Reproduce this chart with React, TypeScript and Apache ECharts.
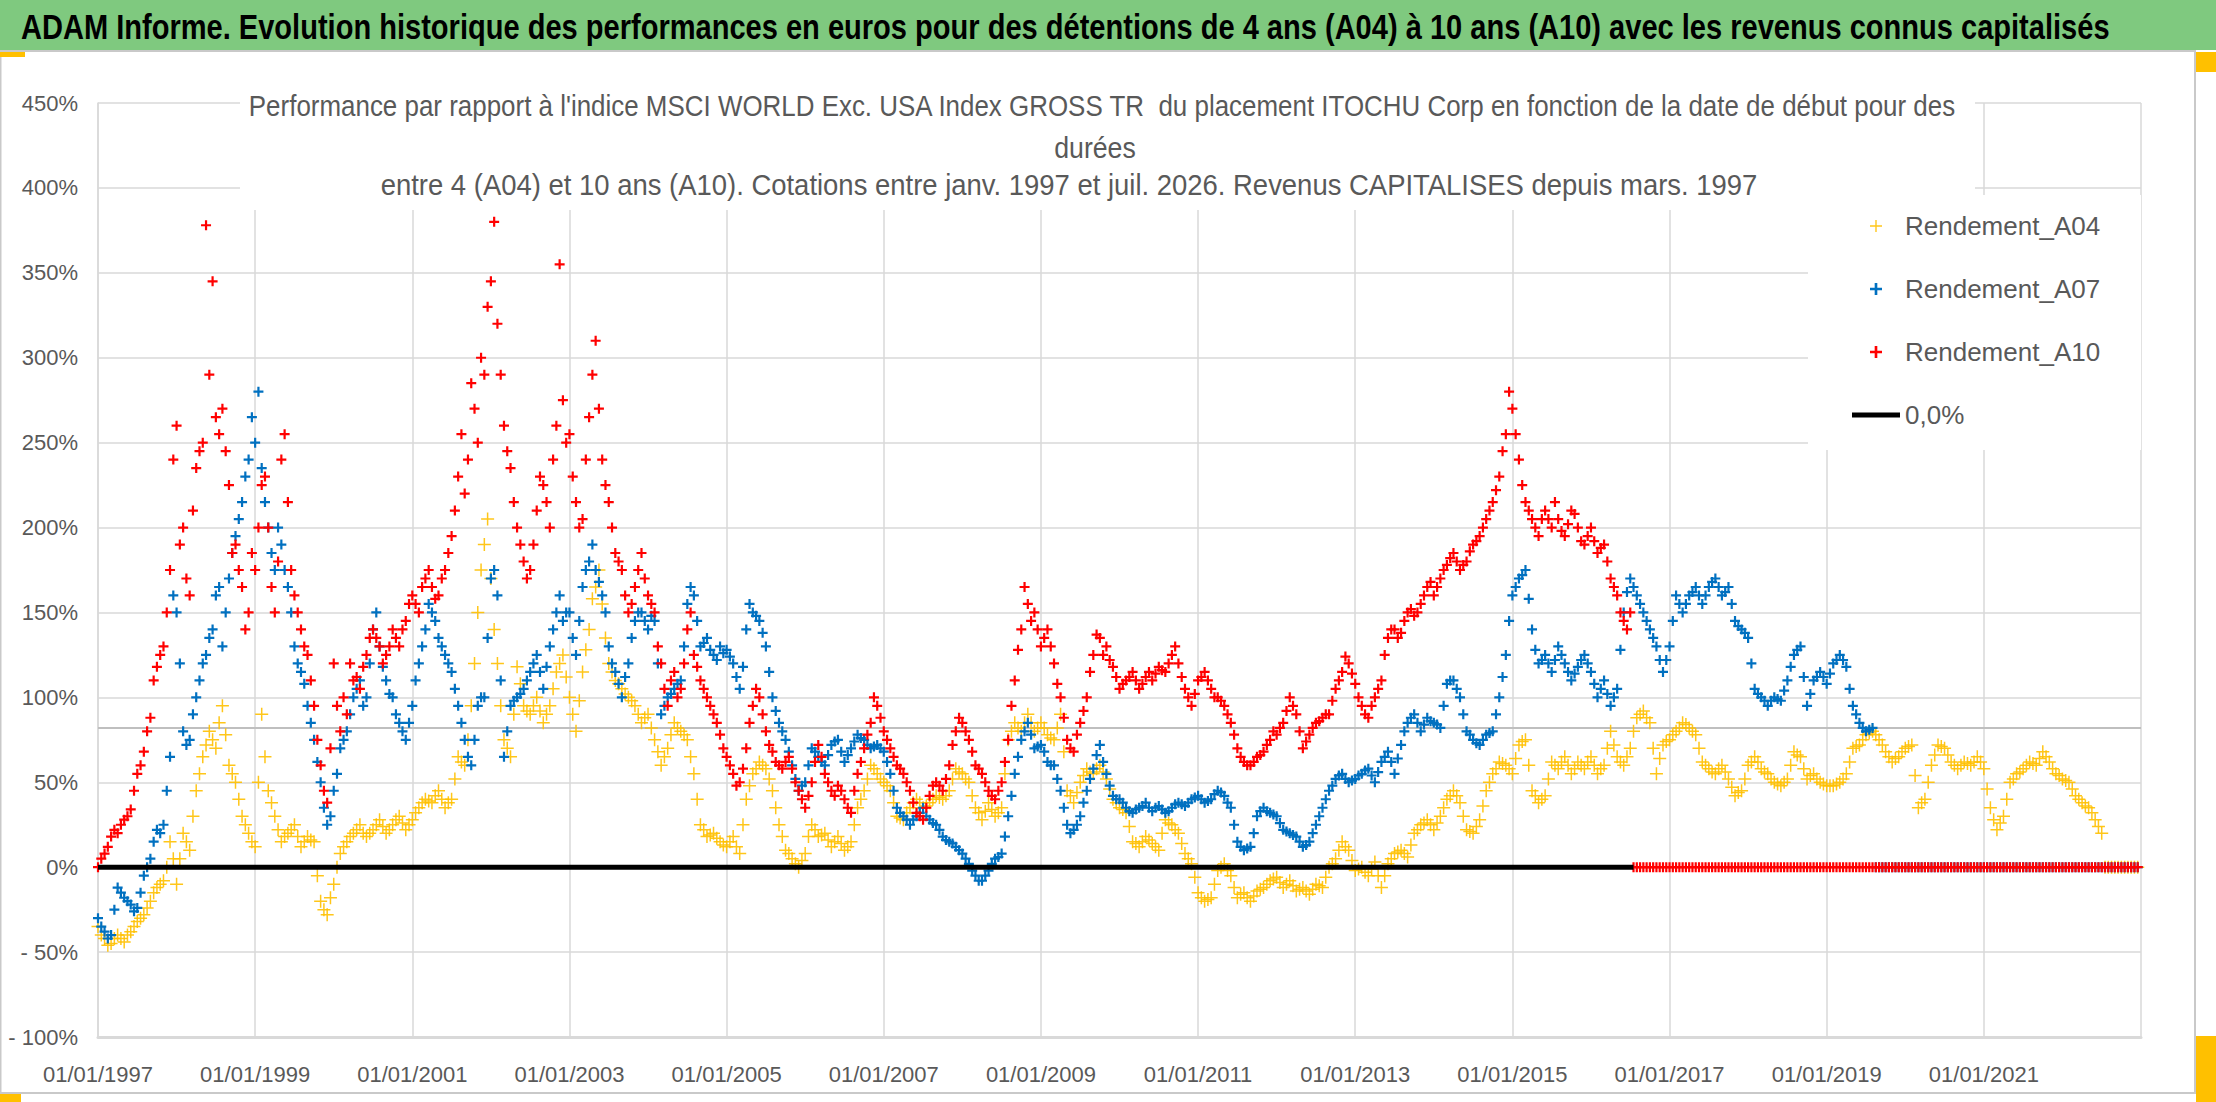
import React, { useEffect, useRef } from 'react';
import * as echarts from 'echarts';

const FONT = "'Liberation Sans', Arial, sans-serif";

// x axis: months counted from Jan 1997, gridlines every 2 years
const FIRST_YEAR = 1997;
const LAST_YEAR = 2023;
const MONTHS_PER_TICK = 24;

// y axis (%)
const Y_MIN = -100;
const Y_MAX = 450;
const Y_STEP = 50;
const REF_LEVEL = 82; // the darker grey horizontal line

const SERIES_NAMES = ['Rendement_A04', 'Rendement_A07', 'Rendement_A10'];
const ZERO_NAME = '0,0%';
const COLORS = ['#FFC000', '#0070C0', '#FF0000'];

// readings (%) at the start of each month from Jan 1997, one row per year
const A04 = [
  -35, -42, -45, -40, -44, -38, -32, -28, -20, -12, -8, 15,
  -10, 20, 10, 45, 65, 80, 70, 95, 60, 50, 30, 20,
  12, 90, 45, 30, 15, 20, 25, 12, 18, 15, -20, -28,
  -10, 8, 15, 20, 25, 18, 22, 28, 20, 25, 30, 22,
  28, 35, 40, 38, 45, 35, 40, 65, 60, 95, 150, 190,
  170, 120, 75, 65, 118, 95, 90, 100, 85, 95, 115, 125,
  100, 80, 115, 140, 165, 155, 120, 110, 105, 100, 95, 85,
  90, 75, 60, 70, 85, 80, 75, 55, 25, 18, 20, 15,
  12, 18, 8, 40, 55, 62, 58, 45, 25, 10, 5, 0,
  8, 25, 18, 20, 12, 18, 10, 15, 35, 45, 60, 55,
  50, 45, 30, 28, 35, 40, 35, 38, 42, 40, 45, 58,
  55, 50, 35, 28, 38, 30, 35, 75, 85, 80, 90, 80,
  85, 78, 75, 90, 45, 38, 50, 58, 55, 60, 52, 40,
  35, 32, 15, 12, 18, 14, 10, 28, 25, 20, 8, 2,
  -15, -20, -18, -2, 2, -5, -18, -15, -20, -14, -12, -8,
  -6, -12, -8, -14, -12, -16, -10, -12, 0, 5, 15, 10,
  -2, 0, -5, 3, -12, 2, 8, 10, 6, 20, 25, 28,
  22, 30, 40, 45, 38, 22, 20, 28, 45, 55, 62, 60,
  55, 72, 75, 45, 38, 42, 62, 58, 65, 55, 62, 58,
  65, 55, 60, 80, 65, 60, 70, 88, 92, 85, 55, 72,
  75, 80, 85, 82, 78, 62, 58, 55, 60, 52, 42, 45,
  60, 65, 58, 55, 50, 48, 52, 68, 65, 52, 55, 50,
  48, 48, 50, 55, 70, 72, 78, 80, 75, 68, 62, 65,
  70, 72, 35, 40, 60, 72, 70, 62, 58, 62, 60, 65,
  58, 35, 22, 30, 50, 55, 58, 62, 60, 68, 62, 55,
  52, 50, 42, 38, 35, 28, 20, 0, 0, 0, 0, 0,
];
// readings in the middle of each month
const A04_MID = [
  -40, -46, -42, -42, -40, -35, -30, -24, -15, -10, 0, 5,
  5, 15, 30, 55, 72, 75, 85, 78, 55, 40, 25, 15,
  50, 65, 38, 22, 18, 22, 18, 15, 16, -5, -25, -18,
  0, 12, 18, 22, 20, 20, 25, 24, 22, 28, 26, 25,
  32, 38, 39, 42, 40, 38, 52, 62, 75, 120, 175, 205,
  140, 95, 70, 90, 108, 92, 95, 92, 90, 105, 120, 112,
  90, 98, 128, 158, 175, 135, 115, 108, 102, 98, 90, 88,
  82, 68, 65, 78, 82, 78, 65, 40, 22, 19, 17, 13,
  15, 12, 25, 48, 58, 60, 52, 35, 18, 8, 2, 4,
  18, 22, 19, 16, 15, 14, 12, 25, 40, 52, 58, 52,
  48, 38, 29, 32, 38, 38, 36, 40, 41, 42, 52, 56,
  52, 42, 32, 33, 34, 32, 55, 80, 82, 85, 85, 82,
  82, 76, 82, 68, 42, 44, 54, 56, 58, 56, 46, 38,
  34, 24, 14, 15, 16, 12, 20, 26, 22, 14, 5, -6,
  -18, -19, -10, 0, -2, -12, -16, -18, -17, -13, -10, -7,
  -9, -10, -11, -13, -14, -13, -11, -6, 2, 10, 12, 4,
  -1, -3, -1, -5, -5, 5, 9, 8, 13, 22, 26, 25,
  26, 35, 42, 42, 30, 21, 24, 36, 50, 58, 61, 58,
  64, 74, 60, 42, 40, 52, 60, 62, 60, 58, 60, 62,
  60, 58, 70, 72, 62, 65, 80, 90, 88, 70, 64, 74,
  78, 82, 84, 80, 70, 60, 56, 58, 56, 47, 44, 52,
  62, 62, 56, 52, 49, 50, 60, 66, 58, 54, 52, 49,
  48, 49, 52, 62, 71, 75, 79, 78, 72, 65, 64, 68,
  71, 54, 38, 50, 66, 71, 66, 60, 60, 61, 62, 62,
  46, 28, 26, 40, 52, 56, 60, 61, 64, 65, 58, 54,
  51, 46, 40, 36, 32, 24, 0, 0, 0, 0, 0, 0,
];

const A07 = [
  -30, -38, -40, -12, -18, -22, -24, -5, 5, 22, 25, 65,
  150, 80, 75, 100, 120, 135, 160, 130, 170, 195, 215, 240,
  250, 235, 200, 175, 190, 165, 130, 115, 95, 75, 50, 25,
  45, 70, 80, 100, 110, 100, 140, 130, 110, 100, 85, 75,
  95, 120, 140, 150, 135, 125, 115, 95, 75, 60, 95, 100,
  170, 160, 65, 95, 100, 105, 115, 125, 105, 130, 150, 145,
  150, 125, 165, 180, 175, 160, 130, 115, 100, 120, 145, 150,
  140, 145, 90, 100, 105, 110, 155, 160, 130, 135, 125, 130,
  128, 120, 105, 140, 150, 145, 130, 100, 85, 75, 60, 45,
  50, 70, 65, 60, 72, 75, 62, 70, 78, 75, 70, 72,
  68, 55, 35, 30, 25, 30, 35, 28, 25, 18, 15, 12,
  8, 2, -5, -8, -2, 5, 8, 30, 55, 75, 85, 70,
  72, 62, 60, 45, 25, 22, 30, 45, 58, 72, 55, 42,
  40, 35, 32, 35, 38, 33, 36, 32, 35, 38, 36, 40,
  42, 38, 40, 45, 42, 35, 15, 10, 12, 30, 35, 32,
  30, 22, 20, 18, 12, 15, 25, 35, 45, 52, 55, 50,
  52, 55, 58, 50, 62, 68, 55, 72, 85, 90, 80, 88,
  85, 82, 108, 110, 100, 80, 75, 72, 78, 80, 100, 125,
  160, 170, 175, 140, 120, 125, 115, 130, 120, 110, 118, 125,
  115, 100, 110, 95, 105, 150, 170, 160, 150, 140, 130, 115,
  130, 160, 150, 160, 165, 155, 165, 170, 160, 165, 145, 140,
  135, 105, 100, 95, 100, 98, 110, 125, 130, 95, 110, 115,
  108, 120, 125, 118, 95, 85, 80, 82, 0, 0, 0, 0,
  0, 0, 0, 0, 0, 0, 0, 0, 0, 0, 0, 0,
  0, 0, 0, 0, 0, 0, 0, 0, 0, 0, 0, 0,
  0, 0, 0, 0, 0, 0, 0, 0, 0, 0, 0, 0,
];
const A07_MID = [
  -35, -42, -25, -15, -20, -26, -15, 0, 15, 20, 45, 160,
  120, 72, 90, 110, 125, 140, 165, 150, 185, 205, 230, 265,
  280, 215, 185, 200, 175, 150, 120, 108, 85, 62, 35, 30,
  55, 75, 90, 105, 95, 120, 150, 118, 102, 90, 80, 85,
  110, 130, 155, 145, 130, 120, 105, 85, 65, 75, 100, 135,
  175, 110, 80, 98, 102, 110, 120, 115, 118, 140, 160, 150,
  135, 145, 175, 190, 168, 150, 120, 108, 112, 135, 150, 145,
  148, 120, 95, 102, 108, 130, 165, 145, 132, 128, 122, 126,
  124, 112, 118, 155, 148, 138, 115, 92, 80, 68, 52, 48,
  60, 68, 62, 66, 74, 68, 66, 74, 76, 72, 71, 70,
  62, 45, 32, 28, 28, 32, 30, 26, 22, 16, 14, 10,
  5, -2, -8, -5, 2, 6, 18, 42, 65, 80, 78, 71,
  68, 60, 52, 35, 20, 25, 38, 52, 66, 62, 48, 40,
  38, 33, 34, 36, 35, 35, 34, 33, 37, 37, 38, 41,
  40, 39, 43, 44, 38, 25, 12, 11, 20, 33, 33, 31,
  26, 21, 19, 15, 13, 20, 30, 40, 48, 54, 52, 51,
  54, 57, 54, 56, 65, 62, 64, 80, 88, 85, 84, 86,
  84, 95, 110, 105, 90, 78, 73, 75, 79, 90, 112, 145,
  165, 172, 158, 128, 122, 120, 122, 125, 115, 114, 122, 120,
  108, 105, 102, 100, 128, 162, 165, 155, 145, 135, 122, 122,
  145, 155, 155, 162, 160, 160, 168, 165, 162, 155, 142, 138,
  120, 102, 98, 98, 99, 104, 118, 128, 112, 102, 112, 112,
  114, 122, 122, 105, 90, 82, 81, 0, 0, 0, 0, 0,
  0, 0, 0, 0, 0, 0, 0, 0, 0, 0, 0, 0,
  0, 0, 0, 0, 0, 0, 0, 0, 0, 0, 0, 0,
  0, 0, 0, 0, 0, 0, 0, 0, 0, 0, 0, 0,
];

const A10 = [
  0, 8, 18, 20, 28, 34, 55, 68, 88, 118, 130, 175,
  260, 200, 160, 235, 250, 290, 265, 270, 225, 190, 165, 150,
  175, 225, 200, 150, 240, 215, 160, 140, 125, 95, 60, 38,
  120, 80, 90, 110, 105, 125, 140, 130, 125, 140, 130, 145,
  160, 150, 170, 165, 160, 175, 195, 230, 220, 285, 250, 290,
  345, 320, 260, 235, 200, 180, 175, 210, 225, 200, 260, 275,
  255, 215, 205, 265, 310, 240, 215, 185, 175, 150, 165, 185,
  160, 150, 120, 95, 115, 105, 140, 125, 110, 100, 90, 78,
  65, 55, 50, 70, 95, 100, 80, 68, 60, 62, 58, 45,
  35, 50, 72, 55, 45, 48, 40, 32, 55, 70, 85, 95,
  80, 70, 60, 55, 45, 32, 28, 42, 50, 45, 60, 80,
  85, 75, 60, 55, 45, 40, 50, 75, 110, 140, 155, 150,
  130, 140, 120, 100, 75, 68, 85, 100, 125, 135, 130, 118,
  105, 110, 115, 105, 112, 110, 118, 115, 125, 120, 105, 95,
  110, 115, 105, 100, 95, 85, 70, 62, 60, 65, 68, 75,
  78, 85, 100, 90, 70, 78, 85, 88, 90, 105, 115, 120,
  108, 95, 88, 100, 110, 135, 140, 138, 150, 148, 155, 165,
  160, 170, 178, 185, 175, 180, 190, 195, 205, 215, 230, 255,
  270, 240, 215, 205, 195, 210, 200, 205, 195, 210, 200, 190,
  200, 185, 190, 170, 160, 145, 150, 0, 0, 0, 0, 0,
  0, 0, 0, 0, 0, 0, 0, 0, 0, 0, 0, 0,
  0, 0, 0, 0, 0, 0, 0, 0, 0, 0, 0, 0,
  0, 0, 0, 0, 0, 0, 0, 0, 0, 0, 0, 0,
  0, 0, 0, 0, 0, 0, 0, 0, 0, 0, 0, 0,
  0, 0, 0, 0, 0, 0, 0, 0, 0, 0, 0, 0,
  0, 0, 0, 0, 0, 0, 0, 0, 0, 0, 0, 0,
];
const A10_MID = [
  5, 12, 22, 25, 30, 45, 60, 80, 110, 125, 150, 240,
  190, 170, 210, 245, 378, 345, 255, 245, 185, 175, 140, 185,
  200, 230, 165, 180, 255, 175, 150, 130, 110, 75, 45, 70,
  95, 100, 120, 112, 118, 135, 135, 120, 130, 135, 140, 155,
  155, 165, 175, 158, 170, 185, 210, 255, 240, 270, 300, 330,
  380, 290, 245, 215, 190, 170, 190, 230, 215, 240, 355, 250,
  230, 200, 240, 290, 270, 225, 200, 180, 160, 155, 175, 170,
  155, 130, 105, 110, 100, 120, 150, 118, 105, 95, 85, 70,
  60, 48, 58, 85, 105, 90, 72, 62, 58, 65, 50, 40,
  42, 62, 65, 50, 42, 45, 35, 45, 62, 78, 100, 88,
  75, 65, 58, 50, 38, 30, 35, 48, 48, 52, 72, 88,
  80, 68, 58, 50, 42, 45, 62, 95, 128, 165, 145, 140,
  135, 130, 108, 88, 70, 78, 92, 115, 137, 125, 122, 112,
  108, 112, 110, 108, 115, 114, 116, 120, 130, 112, 100, 102,
  112, 110, 100, 98, 90, 78, 65, 60, 62, 66, 72, 80,
  82, 92, 95, 80, 74, 82, 86, 90, 98, 110, 124, 114,
  100, 90, 95, 105, 125, 140, 135, 145, 152, 150, 160, 168,
  165, 175, 182, 180, 178, 186, 192, 200, 210, 222, 245, 280,
  255, 225, 210, 200, 205, 205, 215, 198, 202, 208, 192, 195,
  192, 188, 180, 165, 150, 140, 0, 0, 0, 0, 0, 0,
  0, 0, 0, 0, 0, 0, 0, 0, 0, 0, 0, 0,
  0, 0, 0, 0, 0, 0, 0, 0, 0, 0, 0, 0,
  0, 0, 0, 0, 0, 0, 0, 0, 0, 0, 0, 0,
  0, 0, 0, 0, 0, 0, 0, 0, 0, 0, 0, 0,
  0, 0, 0, 0, 0, 0, 0, 0, 0, 0, 0, 0,
  0, 0, 0, 0, 0, 0, 0, 0, 0, 0, 0, 0,
];

const TITLE = 'ADAM Informe. Evolution historique des performances en euros pour des détentions de 4 ans (A04) à 10 ans (A10) avec les revenus connus capitalisés';
const SUBTITLE = [
  "Performance par rapport à l'indice MSCI WORLD Exc. USA Index GROSS TR  du placement ITOCHU Corp en fonction de la date de début pour des",
  'durées',
  'entre 4 (A04) et 10 ans (A10). Cotations entre janv. 1997 et juil. 2026. Revenus CAPITALISES depuis mars. 1997',
];

// "+" markers: bold for A07/A10, thin for A04
const PLUS_BOLD = 'path://M3.9,0h2.2v3.9h3.9v2.2h-3.9v3.9h-2.2v-3.9h-3.9v-2.2h3.9z';
const PLUS_THIN = 'path://M5.75,0h1.5v5.75h5.75v1.5h-5.75v5.75h-1.5v-5.75h-5.75v-1.5h5.75z';
const LINE_ICON = 'path://M0,0h48v5h-48z';

const W = 2216;
const H = 1102;

const App: React.FC = () => {
  const chartRef = useRef<HTMLDivElement>(null);

  useEffect(() => {
    if (!chartRef.current) return;
    document.body.style.margin = '0';

    const chart = echarts.init(chartRef.current, null, { renderer: 'svg' });

    const totalMonths = (LAST_YEAR - FIRST_YEAR) * 12;
    const toPoints = (start: number[], mid: number[]) => [
      ...start.map((v, i) => [i, v]),
      ...mid.map((v, i) => [i + 0.5, v]),
    ];
    const lastA10 = A10.reduce((last, v, i) => (v !== 0 ? i : last), 0);

    const scatter = (name: string, start: number[], mid: number[], color: string, thin: boolean) => ({
      name,
      type: 'scatter',
      data: toPoints(start, mid),
      symbol: thin ? PLUS_THIN : PLUS_BOLD,
      symbolSize: thin ? 13 : 10,
      itemStyle: { color, opacity: thin ? 0.9 : 1 },
      silent: true,
      z: 3,
    });

    const subtitleText = (text: string, x: number, y: number, sx: number) => ({
      type: 'text',
      z: 10,
      x,
      y,
      scaleX: sx,
      style: { text, fill: '#595959', font: `30px ${FONT}`, textAlign: 'center', textVerticalAlign: 'middle' },
    });

    const option = {
      animation: false,
      backgroundColor: '#ffffff',
      grid: { left: 98, right: 75, top: 103, bottom: 65 },
      xAxis: {
        type: 'value',
        min: 0,
        max: totalMonths,
        interval: MONTHS_PER_TICK,
        axisLine: { onZero: false, lineStyle: { color: '#d9d9d9', width: 3 } },
        axisTick: { show: false },
        splitLine: { show: true, lineStyle: { color: '#d9d9d9', width: 1.5 } },
        axisLabel: {
          showMaxLabel: false,
          margin: 26,
          color: '#595959',
          fontSize: 22,
          fontFamily: FONT,
          formatter: (v: number) => `01/01/${FIRST_YEAR + v / 12}`,
        },
      },
      yAxis: {
        type: 'value',
        min: Y_MIN,
        max: Y_MAX,
        interval: Y_STEP,
        axisLine: { show: true, lineStyle: { color: '#d9d9d9', width: 1.5 } },
        axisTick: { show: false },
        splitLine: { show: true, lineStyle: { color: '#d9d9d9', width: 1.5 } },
        axisLabel: {
          margin: 20,
          color: '#595959',
          fontSize: 22,
          fontFamily: FONT,
          formatter: (v: number) => (v < 0 ? `- ${-v}%` : `${v}%`),
        },
      },
      legend: {
        orient: 'vertical',
        left: 1847,
        top: 208,
        itemWidth: 48,
        itemHeight: 12,
        itemGap: 37,
        textStyle: { fontSize: 26, color: '#595959', fontFamily: FONT },
        data: [
          ...SERIES_NAMES.map((name) => ({ name })),
          { name: ZERO_NAME, icon: LINE_ICON, itemStyle: { color: '#000000' } },
        ],
      },
      graphic: [
        { type: 'rect', z: 1, shape: { x: 0, y: 0, width: W, height: 50 }, style: { fill: '#7fc97f' } },
        { type: 'rect', z: 1, shape: { x: 0, y: 50, width: 2196, height: 2 }, style: { fill: '#c9c9c9' } },
        { type: 'rect', z: 1, shape: { x: 2194, y: 50, width: 2, height: 1044 }, style: { fill: '#c9c9c9' } },
        { type: 'rect', z: 1, shape: { x: 0, y: 1092, width: 2196, height: 2 }, style: { fill: '#c9c9c9' } },
        { type: 'rect', z: 1, shape: { x: 0, y: 50, width: 1.5, height: 1044 }, style: { fill: '#c9c9c9' } },
        { type: 'rect', z: 1, shape: { x: 0, y: 52, width: 25, height: 5 }, style: { fill: '#FFC000' } },
        { type: 'rect', z: 1, shape: { x: 2196, y: 52, width: 20, height: 20 }, style: { fill: '#FFC000' } },
        { type: 'rect', z: 1, shape: { x: 0, y: 1094, width: 21, height: 8 }, style: { fill: '#FFC000' } },
        { type: 'rect', z: 1, shape: { x: 2196, y: 1036, width: 20, height: 66 }, style: { fill: '#FFC000' } },
        // white boxes behind the chart title and the legend
        { type: 'rect', z: 1, shape: { x: 240, y: 82, width: 1735, height: 128 }, style: { fill: '#ffffff' } },
        { type: 'rect', z: 1, shape: { x: 1808, y: 195, width: 333, height: 255 }, style: { fill: '#ffffff' } },
        {
          type: 'text', z: 10, x: 21, y: 27, scaleX: 0.83,
          style: { text: TITLE, fill: '#000000', font: `bold 35px ${FONT}`, textVerticalAlign: 'middle' },
        },
        subtitleText(SUBTITLE[0], 1102, 106, 0.865),
        subtitleText(SUBTITLE[1], 1095, 147, 0.89),
        subtitleText(SUBTITLE[2], 1069, 185, 0.915),
      ],
      series: [
        {
          name: 'ref',
          type: 'line',
          data: [[0, REF_LEVEL], [totalMonths, REF_LEVEL]],
          symbol: 'none',
          silent: true,
          lineStyle: { color: '#bfbfbf', width: 2 },
          z: 2,
        },
        scatter(SERIES_NAMES[0], A04, A04_MID, COLORS[0], true),
        scatter(SERIES_NAMES[1], A07, A07_MID, COLORS[1], false),
        scatter(SERIES_NAMES[2], A10, A10_MID, COLORS[2], false),
        {
          name: ZERO_NAME,
          type: 'line',
          data: [[0, 0], [lastA10 + 0.5, 0]],
          symbol: 'none',
          silent: true,
          itemStyle: { color: '#000000' },
          lineStyle: { color: '#000000', width: 5 },
          z: 4,
        },
      ],
    };

    chart.setOption(option as any);

    return () => {
      chart.dispose();
    };
  }, []);

  return <div ref={chartRef} style={{ width: W, height: H }} />;
};

export default App;
